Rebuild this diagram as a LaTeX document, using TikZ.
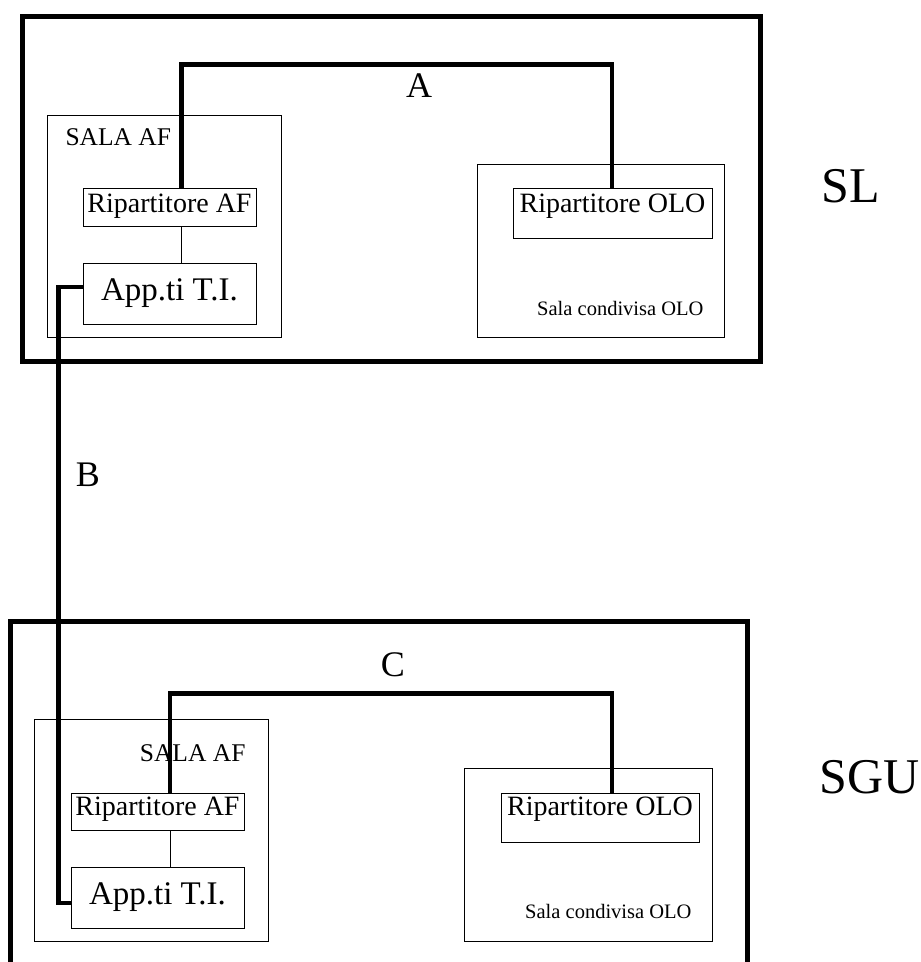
\documentclass[tikz,border=0pt]{standalone}
\usepackage{fontspec}
\setmainfont{Liberation Serif}
\usetikzlibrary{positioning}

\begin{document}
\begin{tikzpicture}[x=1pt,y=-1pt,
      site/.style={draw,line width=5pt,inner sep=0pt},
      room/.style={draw,line width=1pt,inner sep=0pt},
      panel/.style={draw,line width=1pt,inner sep=0pt,minimum width=173pt,
        font=\fontsize{28}{30}\selectfont},
      device/.style={draw,line width=1pt,inner sep=0pt,minimum width=173pt,
        minimum height=61pt,font=\fontsize{33}{35}\selectfont},
      cable/.style={line width=4.5pt},
      patch/.style={line width=0.9pt},
      letter/.style={font=\fontsize{36}{38}\selectfont,anchor=base},
      sitename/.style={font=\fontsize{50}{52}\selectfont,anchor=base},
      roomname/.style={font=\fontsize{25.5}{27}\selectfont},
      sharedname/.style={font=\fontsize{20.5}{22}\selectfont,anchor=base east}
    ]
      \clip (0,0) rectangle (921,962);
      % SL
      \node[site,minimum width=738pt,minimum height=345pt] (sl) at (391,188.5) {};
      \node[room,minimum width=234pt,minimum height=222pt] (salaSL) at (164,226) {};
      \node[room,minimum width=247pt,minimum height=173pt] (oloSL) at (600.5,250.5) {};
      \node[panel,text height=24pt,text depth=14pt] (ripafSL) at (169.5,207) {Ripartitore AF};
      \node[device] (appSL) at (169.5,293.5) {App.ti T.I.};
      \node[panel,minimum width=199pt,text height=24pt,text depth=26pt] (ripoloSL)
        at (612.5,213) {Ripartitore OLO};
      \node[roomname,anchor=base west] (nameSL) at (62,145) {SALA AF};
      \node[sharedname] (sharedSL) at (707,315) {Sala condivisa OLO};
      \node[sitename] (labSL) at (851,202) {SL};
      % SGU
      \node[site,minimum width=737pt,minimum height=389pt] (sgu) at (378.5,815.5) {};
      \node[room,minimum width=234pt,minimum height=222pt] (salaSGU) at (151,830) {};
      \node[room,minimum width=248pt,minimum height=173pt] (oloSGU) at (588,854.5) {};
      \node[panel,text height=22pt,text depth=15pt] (ripafSGU) at (157.5,811.5) {Ripartitore AF};
      \node[device] (appSGU) at (157.5,897.5) {App.ti T.I.};
      \node[panel,minimum width=198pt,text height=22pt,text depth=27pt] (ripoloSGU)
        at (600,817.5) {Ripartitore OLO};
      \node[roomname,anchor=base east] (nameSGU) at (249,761) {SALA AF};
      \node[sharedname] (sharedSGU) at (695,918) {Sala condivisa OLO};
      \node[sitename] (labSGU) at (870,793) {SGU};
      % links
      \draw[patch] ([xshift=12pt]ripafSL.south) -- ([xshift=12pt]appSL.north);
      \draw[patch] ([xshift=12.5pt]ripafSGU.south) -- ([xshift=12.5pt]appSGU.north);
      \draw[cable] ([xshift=12pt]ripafSL.north) -- ++(0,-123) -| ([xshift=-0.5pt]ripoloSL.north);
      \draw[cable] ([xshift=12.5pt]ripafSGU.north) -- ++(0,-99) -| ([xshift=12pt]ripoloSGU.north);
      \draw[cable] ([yshift=6.5pt]appSL.west) -- ++(-24,0) |- ([yshift=-5.5pt]appSGU.west);
      \node[letter] (labA) at (419,97) {A};
      \node[letter] (labB) at (88,486) {B};
      \node[letter] (labC) at (393,676) {C};
    \end{tikzpicture}
\end{document}
